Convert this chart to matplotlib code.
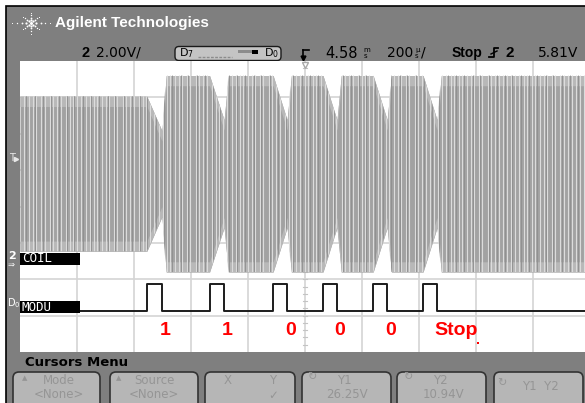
import numpy as np
import matplotlib.pyplot as plt
from matplotlib.patches import Rectangle, FancyBboxPatch
from matplotlib.collections import LineCollection

# scope: 200 us/div, vertical axis in divisions (8 div on screen)
pulse_start = [-555, -335, -112, 63, 239, 414]   # us, D0 (MODU) goes high
pulse_end = [-502, -284, -63, 112, 288, 463]     # us, D0 back low
bit_labels = ['1', '1', '0', '0', '0', 'Stop']

amp_idle = 2.13                                  # COIL half amplitude before first pulse (div)
amp_high = 2.70                                  # COIL half amplitude between pulses (div)
amp_dip = [1.18, 1.48, 1.48, 1.48, 1.48, 1.48]   # at the end of each pulse
coil_offset = 0.9
modu_low, modu_high = -2.87, -2.13

t_left, t_right = -1000, 982

GRAY = '#7f7f7f'
SANS = 'Liberation Sans'

fig = plt.figure(figsize=(5.85, 4.03), dpi=100)

# ---- instrument chrome, drawn in pixel coords ----
bg = fig.add_axes([0, 0, 1, 1])
bg.set_xlim(0, 585)
bg.set_ylim(403, 0)
bg.set_axis_off()
bg.add_patch(Rectangle((0, 0), 585, 403, fc='white', ec='none'))
bg.add_patch(Rectangle((5.8, 5.8), 600, 420, fc=GRAY, ec='black', lw=1.2))

# agilent spark logo
cx, cy = 31, 23
for ang in np.arange(0, 360, 45):
    rx = 19 if ang % 180 == 0 else (12 if ang % 90 != 0 else 14)
    for k, r in enumerate(np.linspace(0.25, 1.0, 4)):
        bg.plot(cx + r * rx * np.cos(np.radians(ang)), cy - r * rx * 0.75 * np.sin(np.radians(ang)),
                'o', color='white', ms=1.6 - 0.3 * k, mew=0)
bg.plot(cx, cy, 'o', color='white', ms=2.2, mew=0)
bg.text(55, 23, 'Agilent Technologies', color='white', fontsize=11, fontweight='bold',
        family=SANS, va='center', ha='left')

# status line
bg.text(82, 53, '2', fontsize=10.5, fontweight='bold', family=SANS, va='center')
bg.text(96, 53, '2.00V/', fontsize=10, family='DejaVu Sans', va='center')
bg.add_patch(FancyBboxPatch((175, 46.5), 106, 14, boxstyle='round,pad=0,rounding_size=4',
                            fc='#c4c4c4', ec='#1a1a1a', lw=1.0))
bg.text(179, 53.5, r'D$_7$', fontsize=8, family='DejaVu Sans', va='center')
bg.text(264, 53.5, r'D$_0$', fontsize=8, family='DejaVu Sans', va='center')
bg.plot([198, 232], [57, 57], color='#8c8c8c', lw=1.0, ls=(0, (2, 1)))
bg.add_patch(Rectangle((238, 50), 14, 3, fc='#8c8c8c', ec='none'))
bg.add_patch(Rectangle((252, 49.5), 6, 4, fc='black', ec='none'))

# trigger position symbol
bg.plot([303, 303], [50, 58], color='black', lw=1.2)
bg.plot([303, 309], [50, 50], color='black', lw=1.2)
bg.plot(303, 58, marker='v', color='black', ms=3.5)
bg.text(325, 53, '4.58', fontsize=10.5, family='DejaVu Sans', va='center')
bg.text(363, 50, 'm', fontsize=5, family='DejaVu Sans', va='center')
bg.text(364, 56, 's', fontsize=5, family='DejaVu Sans', va='center')
bg.text(387, 53, '200', fontsize=10, family='DejaVu Sans', va='center')
bg.text(415, 50, 'µ', fontsize=5, family='DejaVu Sans', va='center')
bg.text(415, 56, 's', fontsize=5, family='DejaVu Sans', va='center')
bg.text(421, 53, '/', fontsize=10, family='DejaVu Sans', va='center')
bg.text(452, 53, 'Stop', fontsize=10, fontweight='bold', family=SANS, va='center')
bg.plot([489, 494, 494, 498], [57, 57, 48, 48], color='black', lw=1.3)
bg.plot([491, 497], [54, 51], color='black', lw=1.0)
bg.text(505, 53, '2', fontsize=11, fontweight='bold', family=SANS, va='center')
bg.text(538, 53, '5.81V', fontsize=10, family='DejaVu Sans', va='center')

# left bar markers
bg.text(9, 158, 'T', color='#e8e8e8', fontsize=7, family='DejaVu Sans', va='center')
bg.plot(16, 159, marker='>', color='#e8e8e8', ms=3)
bg.text(8, 256, '2', color='white', fontsize=8, fontweight='bold', family='DejaVu Sans', va='center')
bg.text(8, 264, '⇒', color='white', fontsize=6, family='DejaVu Sans', va='center')
bg.text(7, 303, r'D$_0$', color='white', fontsize=7, family='DejaVu Sans', va='center')

# soft-key menu
bg.text(25, 362, 'Cursors Menu', fontsize=9.5, fontweight='bold', family='DejaVu Sans', va='center')
btn_x = [13, 110, 205, 302, 397, 494]
btn_w = [87, 88, 90, 89, 89, 89]
for x0, w in zip(btn_x, btn_w):
    bg.add_patch(FancyBboxPatch((x0, 372), w, 40, boxstyle='round,pad=0,rounding_size=6',
                                fc='#b6b6b6', ec='#333333', lw=1.2))
tc = '#959595'
kw = dict(color=tc, fontsize=8.5, family='DejaVu Sans', va='center', ha='center')
bg.text(25, 378, '▲', color=tc, fontsize=5, va='center', ha='center')
bg.text(59, 381, 'Mode', **kw)
bg.text(59, 394, '<None>', **kw)
bg.text(119, 378, '▲', color=tc, fontsize=5, va='center', ha='center')
bg.text(154, 381, 'Source', **kw)
bg.text(154, 394, '<None>', **kw)
bg.text(228, 380, 'X', **kw)
bg.text(273, 380, 'Y', **kw)
bg.text(273, 395, '✓', **kw)
for ix, t1, t2 in [(312, 'Y1', '26.25V'), (408, 'Y2', '10.94V')]:
    bg.text(ix, 377, '↻', color=tc, fontsize=8, va='center', ha='center')
    bg.text(ix + 32, 381, t1, **kw)
    bg.text(ix + 35, 394, t2, **kw)
bg.text(502, 383, '↻', color=tc, fontsize=8, va='center', ha='center')
bg.text(540, 387, 'Y1  Y2', **kw)

# ---- scope screen ----
ax = fig.add_axes([20 / 585, 51 / 403, 565 / 585, 291 / 403])
ax.set_facecolor('white')
for sp in ax.spines.values():
    sp.set_visible(False)
ax.set_xticks([])
ax.set_yticks([])
ax.set_xlim(t_left, t_right)
ax.set_ylim(-4, 4)

for x in range(-800, 1000, 200):
    ax.axvline(x, color='#d4d4d4', lw=1.2, zorder=0)
for y in range(-3, 4):
    ax.axhline(y, color='#d4d4d4', lw=1.2, zorder=0)
for x in np.arange(-960, 980, 40):
    ax.plot([x, x], [-0.06, 0.06], color='#c4c4c4', lw=0.8, zorder=0)
for y in np.arange(-3.8, 4, 0.2):
    ax.plot([-7, 7], [y, y], color='#c4c4c4', lw=0.8, zorder=0)

# COIL envelope
t_env = [t_left]
a_env = [amp_idle]
level = amp_idle
for s, e, d in zip(pulse_start, pulse_end, amp_dip):
    t_env += [s, e, e + 15]
    a_env += [level, d, amp_high]
    level = amp_high
t_env.append(t_right)
a_env.append(amp_high)
t_env = np.array(t_env)
a_env = np.array(a_env)
top = coil_offset + a_env
bot = coil_offset - a_env

body = ax.fill_between(t_env, bot, top, color='#a2a2a2', lw=0, zorder=1)
ax.fill_between(t_env, top - 0.28, top, color='#b8b8b8', lw=0, zorder=1)
ax.fill_between(t_env, bot, bot + 0.28, color='#b8b8b8', lw=0, zorder=1)

# sampled-carrier texture: light and dark vertical streaks
gaps = [12, 17, 14, 11, 16, 13, 18, 12, 15]
xs = t_left + 3 + np.cumsum(np.resize(gaps, 160))
xs = xs[xs < t_right]
light = LineCollection([[(x, -4), (x, 4)] for x in xs], colors='#dcdcdc', lw=0.8, zorder=2)
dark = LineCollection([[(x + 6, -4), (x + 6, 4)] for x in xs[::2]], colors='#8e8e8e', lw=0.6, zorder=2)
for lc in (light, dark):
    ax.add_collection(lc)
    lc.set_clip_path(body.get_paths()[0], ax.transData)

# D0 / MODU trace
mx = [-789]
my = [modu_low]
for s, e in zip(pulse_start, pulse_end):
    mx += [s, s, e, e]
    my += [modu_low, modu_high, modu_high, modu_low]
mx.append(t_right)
my.append(modu_low)
ax.plot(mx, my, color='#1c1c1c', lw=1.4, zorder=3)

# channel label boxes
ax.add_patch(Rectangle((t_left, -1.60), 210, 0.33, fc='black', ec='none', zorder=4))
ax.text(t_left + 7, -1.435, 'COIL', color='white', fontsize=9, family='DejaVu Sans Mono',
        va='center', zorder=5)
ax.add_patch(Rectangle((t_left, -2.93), 210, 0.33, fc='black', ec='none', zorder=4))
ax.text(t_left + 7, -2.765, 'MODU', color='white', fontsize=9, family='DejaVu Sans Mono',
        va='center', zorder=5)

for e, lab in zip(pulse_end, bit_labels):
    ax.text(e - 8, -3.42, lab, color='#ff0000', fontsize=14, fontweight='bold', family=SANS,
            ha='left', va='center', zorder=5)

ax.plot(0, 3.88, marker='v', mfc='white', mec='#a8a8a8', ms=5, clip_on=False, zorder=5)
ax.plot(607, -3.75, marker='s', color='red', ms=2, mew=0, zorder=5)

fig.savefig('out.png', dpi=100)
